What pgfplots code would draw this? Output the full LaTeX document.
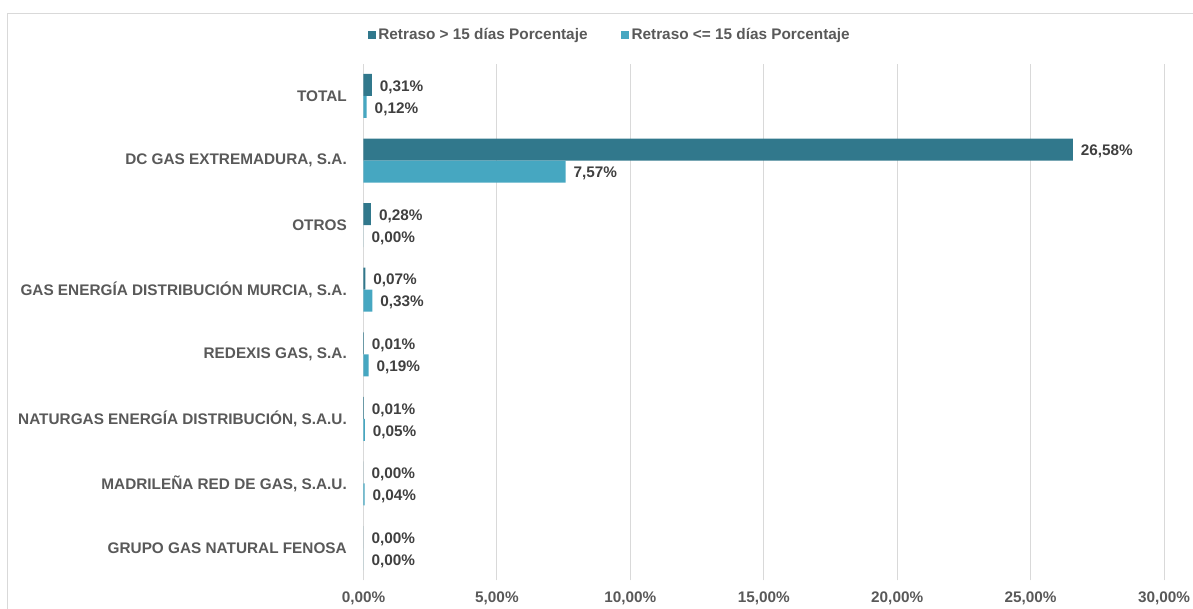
\documentclass[border=0pt]{standalone}
\usepackage{pgfplots}
\pgfplotsset{compat=1.18}
\usepackage{fontspec}
\setmainfont{Liberation Sans}
\definecolor{darkbar}{HTML}{31788C}
\definecolor{lightbar}{HTML}{46A7C1}
\definecolor{axtxt}{HTML}{595959}
\definecolor{lbltxt}{HTML}{404040}
\definecolor{gridc}{HTML}{D9D9D9}
\newcommand{\chf}{\fontsize{11.5}{13}\selectfont\bfseries}
\begin{document}
\begin{tikzpicture}
\useasboundingbox (0pt,0pt) rectangle (894.75pt,456.75pt);
\draw[gridc,line width=0.75pt] (5.25pt,0pt) -- (5.25pt,446.25pt) -- (894.75pt,446.25pt);
\begin{axis}[
  at={(272.625pt,21.5pt)}, anchor=south west,
  scale only axis,
  width=600.4pt, height=387.5pt,
  xbar, bar width=16.5pt,
  xmin=0, xmax=30, ymin=-0.5, ymax=7.5,
  xtick={0,5,10,15,20,25,30},
  ytick={0,1,2,3,4,5,6,7},
  yticklabels={{GRUPO GAS NATURAL FENOSA}, {MADRILEÑA RED DE GAS, S.A.U.}, {NATURGAS ENERGÍA DISTRIBUCIÓN, S.A.U.}, {REDEXIS GAS, S.A.}, {GAS ENERGÍA DISTRIBUCIÓN MURCIA, S.A.}, {OTROS}, {DC GAS EXTREMADURA, S.A.}, {TOTAL}},
  major tick length=0pt,
  axis line style={draw=none},
  xmajorgrids, grid style={gridc, line width=0.75pt},
  /pgf/number format/assume math mode=true,
  xticklabel={\pgfmathprintnumber[fixed,zerofill,precision=2,use comma]{\tick}\%},
  xticklabel style={font=\chf, text=axtxt, yshift=-5pt},
  yticklabel style={font=\chf, text=axtxt, xshift=-9pt},
  point meta=x,
  nodes near coords={\pgfmathprintnumber[fixed,zerofill,precision=2,use comma]{\pgfplotspointmeta}\%},
  nodes near coords style={font=\chf, text=lbltxt, anchor=west, xshift=2.5pt, yshift=-1.5pt},
  legend columns=2,
  legend style={at={(0.308,1.0556)}, anchor=center, draw=none, fill=none,
    font=\chf, text=axtxt,
    /tikz/every even column/.append style={column sep=23pt}},
  legend image code/.code={\fill[#1,draw=none] (0pt,-3pt) rectangle (6pt,3pt);},
]
\addplot[fill=darkbar, draw=none, bar shift=8.25pt] coordinates {
  (0.00,0) (0.00,1) (0.01,2) (0.01,3) (0.07,4) (0.28,5) (26.58,6) (0.31,7)};
\addlegendentry{Retraso > 15 días Porcentaje}
\addplot[fill=lightbar, draw=none, bar shift=-8.25pt] coordinates {
  (0.00,0) (0.04,1) (0.05,2) (0.19,3) (0.33,4) (0.00,5) (7.57,6) (0.12,7)};
\addlegendentry{Retraso <= 15 días Porcentaje}
\end{axis}
\end{tikzpicture}
\end{document}
